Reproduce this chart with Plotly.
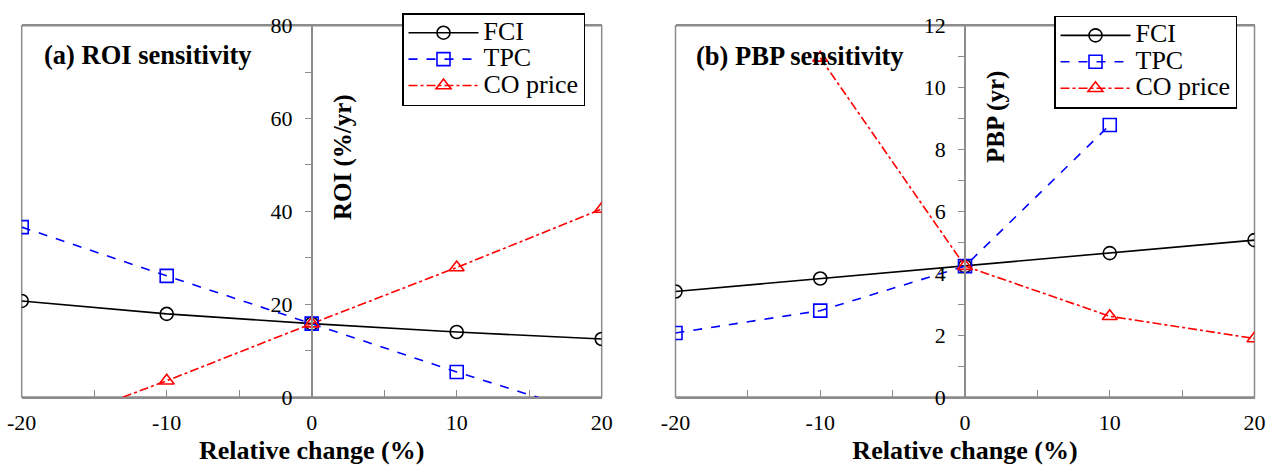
import plotly.graph_objects as go

x_change = [-20, -10, 0, 10, 20]
x_ticklabels = ["-20", "-10", "0", "10", "20"]

roi_fci = [20.7, 17.9, 15.8, 14.0, 12.5]
roi_tpc = [36.6, 26.1, 15.8, 5.4, -4.4]
roi_co = [-8.2, 3.5, 15.8, 27.9, 40.5]

pbp_fci = [3.41, 3.83, 4.23, 4.65, 5.07]
pbp_tpc = [2.07, 2.79, 4.23, 8.79, None]
pbp_co = [None, 10.96, 4.23, 2.61, 1.89]

series_names = ["FCI", "TPC", "CO price"]
colors = ["black", "blue", "red"]
dashes = ["solid", "dash", "dashdot"]
symbols = ["circle-open", "square-open", "triangle-up-open"]

FONT = "Liberation Serif, Times New Roman, serif"
W, H = 1274, 472

def px_x(p):
    return p / W

def px_y(p):
    return 1 - p / H

dom1 = [px_x(21.7), px_x(601.7)]
dom2 = [px_x(675.5), px_x(1254.5)]
ydom = [px_y(397), px_y(25.7)]

def legend_label(name):
    return '<span style="font-size:26px">' + name + '</span>'

fig = go.Figure()

for i, (name, ys) in enumerate(zip(series_names, [roi_fci, roi_tpc, roi_co])):
    fig.add_trace(go.Scatter(
        x=x_change, y=ys, name=legend_label(name), mode="lines+markers",
        line=dict(color=colors[i], dash=dashes[i], width=1.6),
        marker=dict(symbol=symbols[i], size=13, color=colors[i], line=dict(width=1.6, color=colors[i])),
        xaxis="x", yaxis="y", legend="legend", connectgaps=False,
    ))
for i, (name, ys) in enumerate(zip(series_names, [pbp_fci, pbp_tpc, pbp_co])):
    fig.add_trace(go.Scatter(
        x=x_change, y=ys, name=legend_label(name), mode="lines+markers",
        line=dict(color=colors[i], dash=dashes[i], width=1.6),
        marker=dict(symbol=symbols[i], size=13, color=colors[i], line=dict(width=1.6, color=colors[i])),
        xaxis="x2", yaxis="y2", legend="legend2", connectgaps=False,
    ))

axis_gray = "#8c8c8c"
xcommon = dict(range=[-20, 20], tickvals=x_change, ticktext=x_ticklabels, ticks="inside", ticklen=7,
               tickcolor=axis_gray, showgrid=False, zeroline=False, showline=True,
               linecolor=axis_gray, linewidth=1.5, mirror=True, ticklabelstandoff=5,
               minor=dict(tickvals=[-15, -5, 5, 15], ticks="inside", ticklen=7, tickcolor=axis_gray),
               tickfont=dict(family=FONT, size=22, color="black"),
               title=dict(text="<b>Relative change (%)</b>", font=dict(family=FONT, size=26, color="black"), standoff=7))

yfont = dict(family=FONT, size=22, color="black")
legend_common = dict(xanchor="left", yanchor="top", bordercolor="black", borderwidth=1.5,
                     bgcolor="white", font=dict(family=FONT, size=18, color="black"),
                     itemwidth=70, tracegroupgap=0)
fig.update_layout(
    width=W, height=H,
    margin=dict(l=0, r=0, t=0, b=0, autoexpand=False),
    plot_bgcolor="white", paper_bgcolor="white",
    xaxis=dict(domain=dom1, anchor="y", **xcommon),
    xaxis2=dict(domain=dom2, anchor="y2", **xcommon),
    yaxis=dict(domain=ydom, range=[0, 80], tickvals=[0, 20, 40, 60, 80], anchor="free",
               position=(dom1[0] + dom1[1]) / 2, ticks="outside", ticklen=6, tickcolor=axis_gray,
               showline=True, linecolor=axis_gray, linewidth=1.5, showgrid=False, zeroline=False,
               minor=dict(tickvals=[10, 30, 50, 70], ticks="outside", ticklen=6, tickcolor=axis_gray),
               tickfont=yfont, automargin=False, ticklabelstandoff=8),
    yaxis2=dict(domain=ydom, range=[0, 12], tickvals=[0, 2, 4, 6, 8, 10, 12], anchor="free",
                position=(dom2[0] + dom2[1]) / 2, ticks="outside", ticklen=6, tickcolor=axis_gray,
                showline=True, linecolor=axis_gray, linewidth=1.5, showgrid=False, zeroline=False,
                minor=dict(tickvals=[1, 3, 5, 7, 9, 11], ticks="outside", ticklen=6, tickcolor=axis_gray),
                tickfont=yfont, automargin=False, ticklabelstandoff=8),
    legend=dict(x=px_x(402), y=px_y(13), **legend_common),
    legend2=dict(x=px_x(1054), y=px_y(15.7), **legend_common),
    showlegend=True,
)

for xr, yr in [("x domain", "y domain"), ("x2 domain", "y2 domain")]:
    fig.add_shape(type="rect", xref=xr, yref=yr, x0=0, x1=1, y0=0, y1=1,
                  line=dict(color=axis_gray, width=1.5), layer="below")

annots = [
    dict(text="<b>(a) ROI sensitivity</b>", x=px_x(41.7), y=px_y(55)),
    dict(text="<b>(b) PBP sensitivity</b>", x=px_x(694), y=px_y(56)),
]
for a in annots:
    fig.add_annotation(text=a["text"], x=a["x"], y=a["y"], xref="paper", yref="paper",
                       xanchor="left", yanchor="middle", showarrow=False,
                       font=dict(family=FONT, size=26.5, color="black"))

fig.add_annotation(text="<b>ROI (%/yr)</b>", x=px_x(343), y=px_y(157), xref="paper", yref="paper",
                   xanchor="center", yanchor="middle",
                   textangle=-90, showarrow=False, font=dict(family=FONT, size=25, color="black"))
fig.add_annotation(text="<b>PBP (yr)</b>", x=px_x(996), y=px_y(117), xref="paper", yref="paper",
                   xanchor="center", yanchor="middle",
                   textangle=-90, showarrow=False, font=dict(family=FONT, size=25, color="black"))

fig.write_html("out.html", post_script="document.body.style.margin='0px';",
               config={"displayModeBar": False})
